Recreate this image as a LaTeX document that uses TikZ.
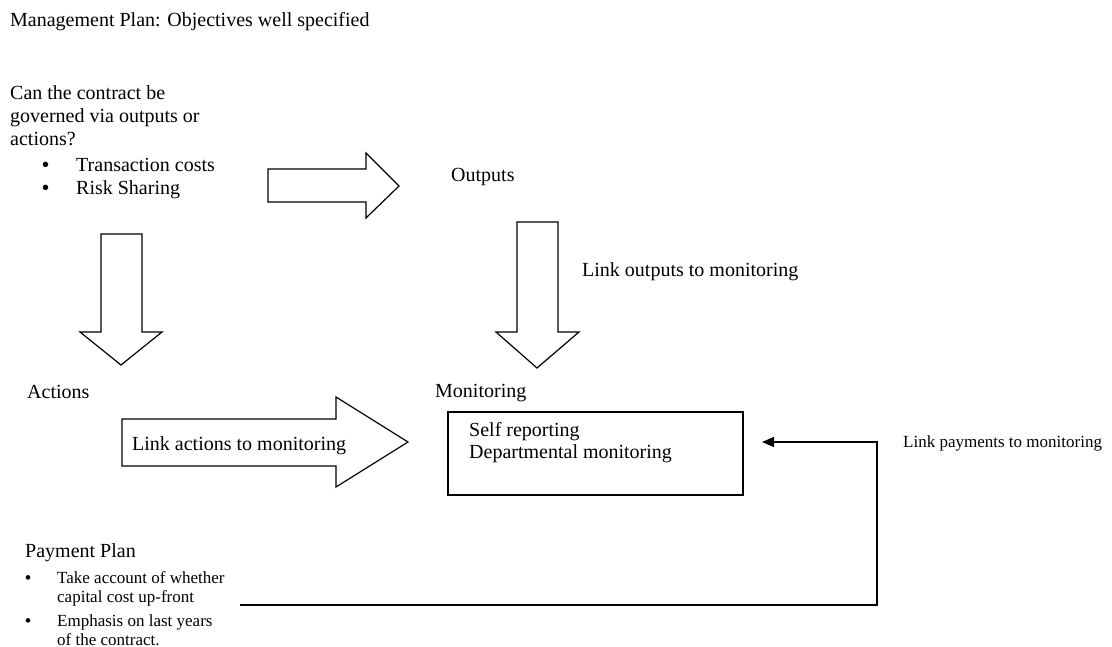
\documentclass[tikz,border=0pt]{standalone}
\usepackage{fontspec}
\setmainfont{Liberation Serif}
\newfontfamily\bulfont{Liberation Sans}
\usetikzlibrary{arrows.meta}
\newcommand{\bigbul}{\makebox[34pt][l]{\bulfont\fontsize{20}{23}\selectfont •}}
\newcommand{\smallbul}{\makebox[32pt][l]{\bulfont\fontsize{17}{19.5}\selectfont •}}
\tikzset{
  big/.style={anchor=base west, inner sep=0pt, font=\fontsize{20}{23}\selectfont},
  small/.style={anchor=base west, inner sep=0pt, font=\fontsize{17}{19.5}\selectfont},
  blockarrow/.style={draw=black, line width=1.2pt, fill=white, line join=miter},
  conn/.style={draw=black, line width=1.2pt},
}
\begin{document}
\begin{tikzpicture}[x=1pt,y=-1pt]
\useasboundingbox (0,0) rectangle (1112,647);

% title and question
\node[big] (title) at (10,27) {Management Plan: Objectives well specified};
\node[big] (q1) at (10,100) {Can the contract be};
\node[big] (q2) at (10,123) {governed via outputs or};
\node[big] (q3) at (10,146) {actions?};
\node[big] (t1) at (42,172) {\bigbul Transaction costs};
\node[big] (t2) at (42,195) {\bigbul Risk Sharing};

% block arrow to outputs
\path[blockarrow] (268,169) -- (366,169) -- (366,153) -- (399,186) -- (366,218) -- (366,202) -- (268,202) -- cycle;
\node[big] (outputs) at (451,182) {Outputs};

% block arrow down to actions
\path[blockarrow] (101,234) -- (142,234) -- (142,332) -- (162,332) -- (121,365) -- (80,332) -- (101,332) -- cycle;

% block arrow down from outputs to monitoring
\path[blockarrow] (517,222) -- (558,222) -- (558,332) -- (579,332) -- (537,368) -- (496,332) -- (517,332) -- cycle;
\node[big] (lout) at (582,277) {Link outputs to monitoring};

% actions
\node[big] (actions) at (27,398) {Actions};
\path[blockarrow] (122,419) -- (336,419) -- (336,397) -- (408,442) -- (336,487) -- (336,466) -- (122,466) -- cycle;
\node[big] (lact) at (132,450) {Link actions to monitoring};

% monitoring
\node[big] (monlabel) at (435,397) {Monitoring};
\node[draw=black, line width=1.2pt, minimum width=295pt, minimum height=83pt, inner sep=0pt] (mon) at (595.5,453.5) {};
\node[big] (m1) at (469,436) {Self reporting};
\node[big] (m2) at (469,458) {Departmental monitoring};

% payment plan
\node[big] (pp) at (25,557) {Payment Plan};
\node[small] (p1) at (25,583) {\smallbul Take account of whether};
\node[small] (p2) at (57,602) {capital cost up-front};
\node[small] (p3) at (25,626) {\smallbul Emphasis on last years};
\node[small] (p4) at (57,645) {of the contract.};

\node[small] (lpay) at (903,447) {Link payments to monitoring};

% connector
\coordinate (payout) at (240,605);
\coordinate (corner1) at (877,605);
\coordinate (corner2) at (877,442);
\coordinate (monin) at (762,442);
\draw[conn, -{Triangle[length=12pt,width=10pt]}] (payout) -- (corner1) -- (corner2) -- (monin);
\end{tikzpicture}
\end{document}
